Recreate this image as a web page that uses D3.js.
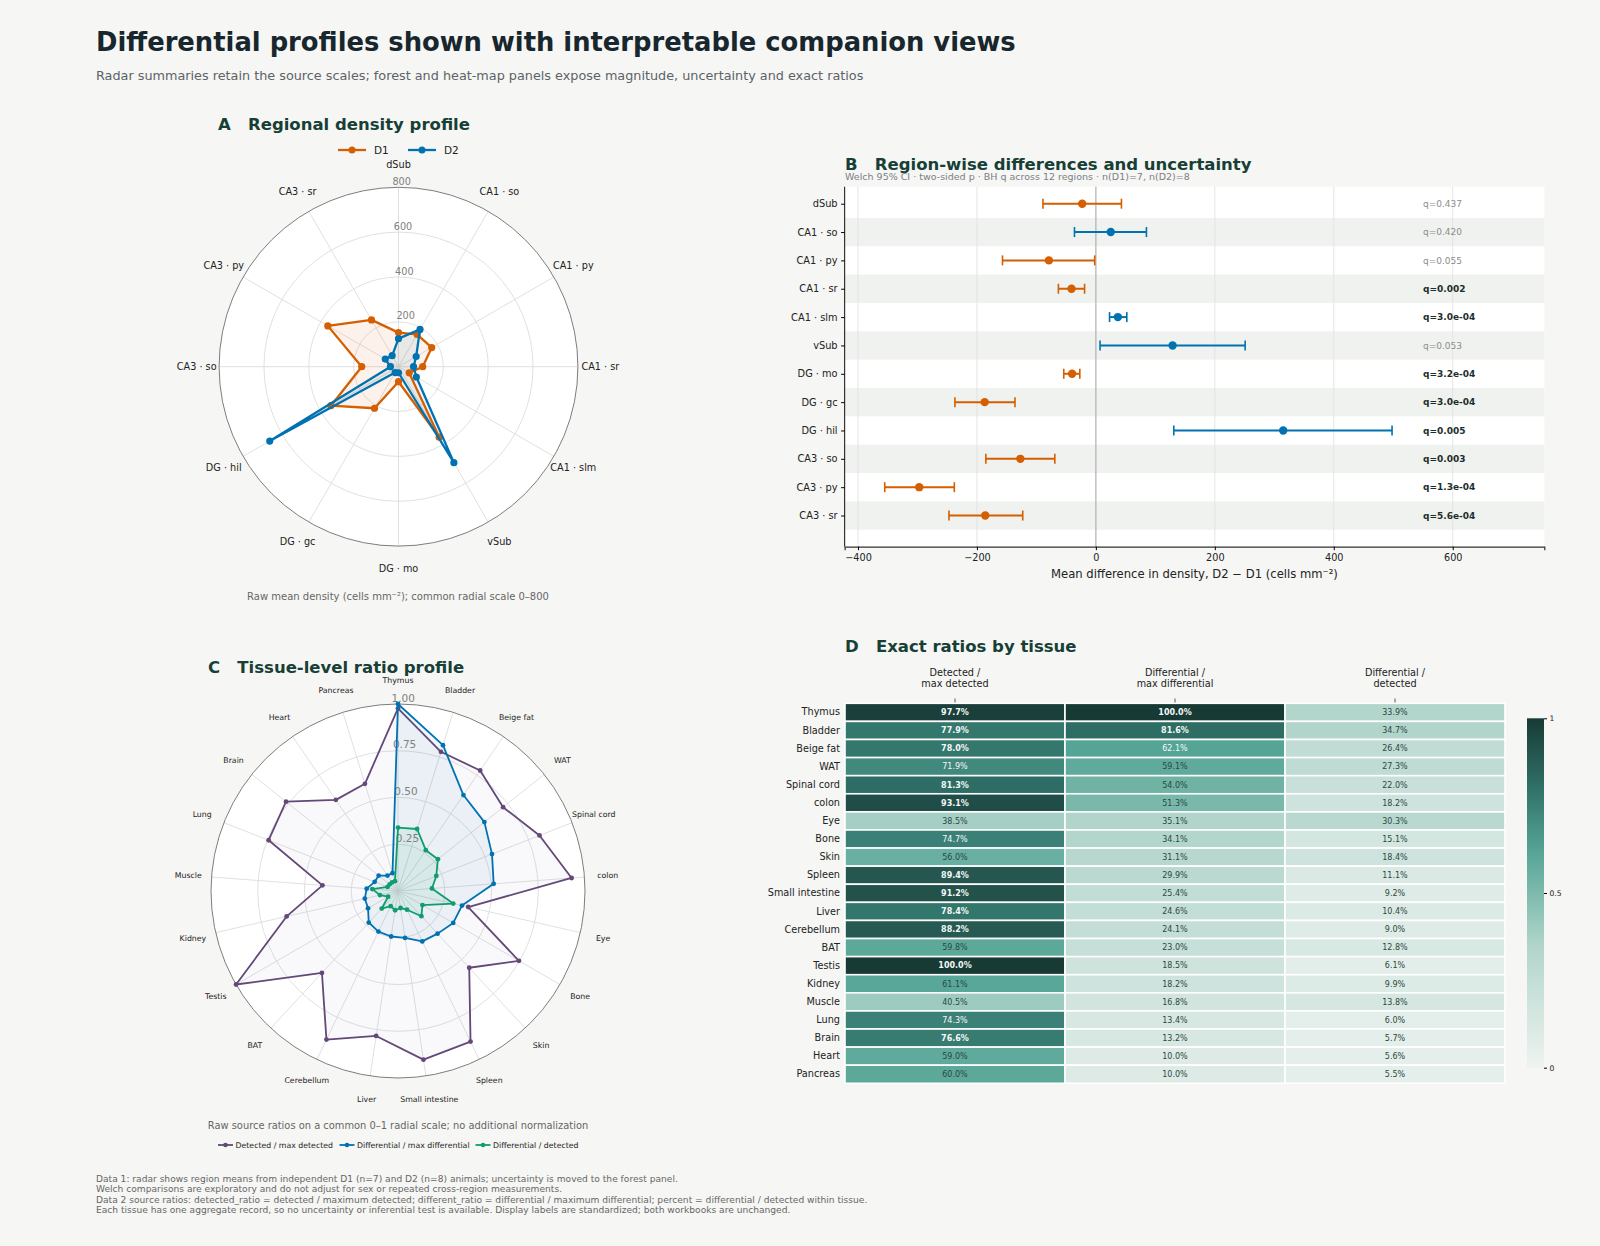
<!DOCTYPE html>
<html>
<head>
<meta charset="utf-8">
<script src="https://cdn.jsdelivr.net/npm/d3@7"></script>
<style>
  body { margin: 0; background: #f6f6f4; }
  svg { display: block; font-family: "DejaVu Sans", sans-serif; }
  .pre { white-space: pre; }
</style>
</head>
<body>
<script>
// ---- data ----
var regions = ["dSub", "CA1 · so", "CA1 · py", "CA1 · sr", "CA1 · slm", "vSub",
  "DG · mo", "DG · gc", "DG · hil", "CA3 · so", "CA3 · py", "CA3 · sr"];
var d1Density = [152, 166, 171, 108, 55, 363, 67, 214, 348, 164, 364, 241];
var d2Density = [125, 192, 91, 67, 92, 494, 27, 30, 663, 36, 68, 57];

var diffMean = [-23, 25, -79, -41, 37, 129, -40, -187, 315, -127, -297, -186];
var diffLo = [-89, -36, -157, -63, 23, 7, -54, -237, 131, -185, -355, -247];
var diffHi = [43, 85, -2, -19, 52, 251, -27, -136, 498, -69, -238, -123];
var qValues = [0.437, 0.420, 0.055, 0.002, 3.0e-4, 0.053, 3.2e-4, 3.0e-4, 0.005, 0.003, 1.3e-4, 5.6e-4];
var qLabels = ["q=0.437", "q=0.420", "q=0.055", "q=0.002", "q=3.0e-04", "q=0.053",
  "q=3.2e-04", "q=3.0e-04", "q=0.005", "q=0.003", "q=1.3e-04", "q=5.6e-04"];
var forestTicks = [-400, -200, 0, 200, 400, 600];

var tissues = ["Thymus", "Bladder", "Beige fat", "WAT", "Spinal cord", "colon", "Eye", "Bone",
  "Skin", "Spleen", "Small intestine", "Liver", "Cerebellum", "BAT", "Testis", "Kidney",
  "Muscle", "Lung", "Brain", "Heart", "Pancreas"];
var detectedRatio = [0.977, 0.779, 0.780, 0.719, 0.813, 0.931, 0.385, 0.747, 0.560, 0.894, 0.912,
  0.784, 0.882, 0.598, 1.000, 0.611, 0.405, 0.743, 0.766, 0.590, 0.600];
var differentRatio = [1.000, 0.816, 0.621, 0.591, 0.540, 0.513, 0.351, 0.341, 0.311, 0.299, 0.254,
  0.246, 0.241, 0.230, 0.185, 0.182, 0.168, 0.134, 0.132, 0.100, 0.100];
var diffPercent = [0.339, 0.347, 0.264, 0.273, 0.220, 0.182, 0.303, 0.151, 0.184, 0.111, 0.092,
  0.104, 0.090, 0.128, 0.061, 0.099, 0.138, 0.060, 0.057, 0.056, 0.055];
var heatColumns = [["Detected /", "max detected"], ["Differential /", "max differential"], ["Differential /", "detected"]];

var footer = [
  "Data 1: radar shows region means from independent D1 (n=7) and D2 (n=8) animals; uncertainty is moved to the forest panel.",
  "Welch comparisons are exploratory and do not adjust for sex or repeated cross-region measurements.",
  "Data 2 source ratios: detected_ratio = detected / maximum detected; different_ratio = differential / maximum differential; percent = differential / detected within tissue.",
  "Each tissue has one aggregate record, so no uncertainty or inferential test is available. Display labels are standardized; both workbooks are unchanged."
];

var ORANGE = "#d55e00", BLUE = "#0072b2", PURPLE = "#634878", GREEN = "#0f9d6e";
var TITLE = "#173f36";

var W = 1600, H = 1246;
var svg = d3.select("body").append("svg").attr("width", W).attr("height", H);
svg.append("rect").attr("width", W).attr("height", H).attr("fill", "#f6f6f4");

svg.append("text").attr("x", 96).attr("y", 51)
  .attr("font-size", 25.8).attr("font-weight", "bold").attr("fill", "#18262e")
  .text("Differential profiles shown with interpretable companion views");
svg.append("text").attr("x", 96).attr("y", 80)
  .attr("font-size", 12.8).attr("fill", "#5c6368")
  .text("Radar summaries retain the source scales; forest and heat-map panels expose magnitude, uncertainty and exact ratios");

function panelTitle(x, y, txt) {
  svg.append("text").attr("class", "pre").attr("x", x).attr("y", y)
    .attr("font-size", 16.5).attr("font-weight", "bold").attr("fill", TITLE).text(txt);
}

// ---- radar helper ----
function radar(o) {
  var r = d3.scaleLinear().domain([0, o.max]).range([0, o.R]);
  var ang = d3.scaleLinear().domain([0, o.cats.length]).range([0, 2 * Math.PI]);
  var g = svg.append("g").attr("transform", "translate(" + o.cx + "," + o.cy + ")");

  g.append("circle").attr("r", o.R).attr("fill", "#fff");
  g.selectAll(".ring").data(o.rings.filter(function(v) { return v < o.max; }))
    .enter().append("circle").attr("r", function(v) { return r(v); })
    .attr("fill", "none").attr("stroke", "#dcdcdc").attr("stroke-width", 0.9);
  g.selectAll(".spoke").data(o.cats).enter().append("line")
    .attr("x2", function(d, i) { return o.R * Math.sin(ang(i)); })
    .attr("y2", function(d, i) { return -o.R * Math.cos(ang(i)); })
    .attr("stroke", "#dcdcdc").attr("stroke-width", 0.9);
  g.append("circle").attr("r", o.R).attr("fill", "none").attr("stroke", "#7d7d7d").attr("stroke-width", 1);

  var line = d3.lineRadial().angle(function(d, i) { return ang(i); })
    .radius(function(d) { return r(d); }).curve(d3.curveLinearClosed);

  o.series.forEach(function(s) {
    g.append("path").attr("d", line(s.values)).attr("fill", s.color).attr("fill-opacity", s.fillOp).attr("stroke", "none");
  });

  g.selectAll(".rl").data(o.rings).enter().append("text")
    .attr("x", function(v) { return o.tickDx - 0.03 * r(v); })
    .attr("y", function(v) { return -r(v) - 2.5; })
    .attr("text-anchor", "middle").attr("font-size", o.tickSize).attr("fill", "#808080")
    .text(o.ringFmt);

  o.series.forEach(function(s) {
    g.append("path").attr("d", line(s.values)).attr("fill", "none")
      .attr("stroke", s.color).attr("stroke-width", o.lw).attr("stroke-linejoin", "round");
    g.selectAll(null).data(s.values).enter().append("circle")
      .attr("cx", function(d, i) { return r(d) * Math.sin(ang(i)); })
      .attr("cy", function(d, i) { return -r(d) * Math.cos(ang(i)); })
      .attr("r", o.mr).attr("fill", s.color);
  });

  g.selectAll(".cl").data(o.cats).enter().append("text")
    .attr("x", function(d, i) { return o.R * 1.125 * Math.sin(ang(i)); })
    .attr("y", function(d, i) { return -o.R * 1.125 * Math.cos(ang(i)); })
    .attr("dy", "0.35em").attr("text-anchor", "middle")
    .attr("font-size", o.labelSize).attr("fill", "#222").text(function(d) { return d; });
}

// ---- Panel A ----
panelTitle(218, 130, "A   Regional density profile");
var legA = [{ name: "D1", color: ORANGE, x: 338 }, { name: "D2", color: BLUE, x: 408 }];
legA.forEach(function(l) {
  svg.append("line").attr("x1", l.x).attr("x2", l.x + 28).attr("y1", 150).attr("y2", 150)
    .attr("stroke", l.color).attr("stroke-width", 2.3);
  svg.append("circle").attr("cx", l.x + 14).attr("cy", 150).attr("r", 3.5).attr("fill", l.color);
  svg.append("text").attr("x", l.x + 36).attr("y", 150).attr("dy", "0.35em")
    .attr("font-size", 10.5).attr("fill", "#222").text(l.name);
});
radar({
  cx: 398.5, cy: 366.7, R: 179.4, max: 800, rings: [200, 400, 600, 800],
  ringFmt: function(v) { return v; }, tickDx: 8.5, tickSize: 9.7,
  cats: regions, labelSize: 9.7, lw: 2.3, mr: 3.6,
  series: [
    { values: d1Density, color: ORANGE, fillOp: 0.08 },
    { values: d2Density, color: BLUE, fillOp: 0.08 }
  ]
});
svg.append("text").attr("x", 398).attr("y", 600).attr("text-anchor", "middle")
  .attr("font-size", 10).attr("fill", "#666").text("Raw mean density (cells mm⁻²); common radial scale 0–800");

// ---- Panel B ----
panelTitle(845, 170, "B   Region-wise differences and uncertainty");
svg.append("text").attr("x", 845).attr("y", 180).attr("font-size", 9.5).attr("fill", "#7b8084")
  .text("Welch 95% CI · two-sided p · BH q across 12 regions · n(D1)=7, n(D2)=8");

var xB = d3.scaleLinear().domain([-422.5, 754]).range([844.6, 1544.3]);
var yB = d3.scaleLinear().domain([-0.6, 12.1]).range([186.7, 546.7]);
var gB = svg.append("g");
gB.append("rect").attr("x", xB.range()[0]).attr("y", yB.range()[0])
  .attr("width", xB.range()[1] - xB.range()[0]).attr("height", yB.range()[1] - yB.range()[0]).attr("fill", "#fff");
gB.selectAll(".band").data(regions).enter().filter(function(d, i) { return i % 2 === 1; })
  .append("rect").attr("x", xB.range()[0]).attr("width", xB.range()[1] - xB.range()[0])
  .attr("y", function(d) { return yB(regions.indexOf(d) - 0.5); })
  .attr("height", yB(1) - yB(0)).attr("fill", "#f0f2ef");
gB.selectAll(".grid").data(forestTicks).enter().append("line")
  .attr("x1", function(d) { return xB(d); }).attr("x2", function(d) { return xB(d); })
  .attr("y1", yB.range()[0]).attr("y2", yB.range()[1])
  .attr("stroke", function(d) { return d === 0 ? "#b0b0b0" : "#e2e2e2"; })
  .attr("stroke-width", function(d) { return d === 0 ? 1.2 : 0.9; });

var rowsB = gB.selectAll(".row").data(regions).enter().append("g")
  .attr("transform", function(d, i) { return "translate(0," + yB(i) + ")"; });
function colB(i) { return diffMean[i] < 0 ? ORANGE : BLUE; }
rowsB.append("line").attr("x1", function(d, i) { return xB(diffLo[i]); }).attr("x2", function(d, i) { return xB(diffHi[i]); })
  .attr("stroke", function(d, i) { return colB(i); }).attr("stroke-width", 2);
rowsB.append("line").attr("x1", function(d, i) { return xB(diffLo[i]); }).attr("x2", function(d, i) { return xB(diffLo[i]); })
  .attr("y1", -5).attr("y2", 5).attr("stroke", function(d, i) { return colB(i); }).attr("stroke-width", 1.6);
rowsB.append("line").attr("x1", function(d, i) { return xB(diffHi[i]); }).attr("x2", function(d, i) { return xB(diffHi[i]); })
  .attr("y1", -5).attr("y2", 5).attr("stroke", function(d, i) { return colB(i); }).attr("stroke-width", 1.6);
rowsB.append("circle").attr("cx", function(d, i) { return xB(diffMean[i]); }).attr("r", 4.2)
  .attr("fill", function(d, i) { return colB(i); });
rowsB.append("text").attr("x", xB(550)).attr("dy", "0.35em").attr("font-size", 9)
  .attr("font-weight", function(d, i) { return qValues[i] < 0.05 ? "bold" : "normal"; })
  .attr("fill", function(d, i) { return qValues[i] < 0.05 ? "#1d2d2b" : "#8c8c8c"; })
  .text(function(d, i) { return qLabels[i]; });

var axXB = gB.append("g").attr("transform", "translate(0," + yB.range()[1] + ")")
  .call(d3.axisBottom(xB).tickValues(forestTicks).tickSize(3.5).tickPadding(3.5).tickFormat(d3.format("d")));
axXB.select(".domain").attr("stroke", "#333").attr("stroke-width", 1.2);
axXB.selectAll(".tick text").attr("font-size", 9.7).attr("font-family", "DejaVu Sans").attr("fill", "#222");
var axYB = gB.append("g").attr("transform", "translate(" + xB.range()[0] + ",0)")
  .call(d3.axisLeft(d3.scalePoint().domain(regions).range([yB(0), yB(11)])).tickSize(3.5).tickPadding(3.5));
axYB.select(".domain").attr("d", "M0," + yB.range()[0] + "V" + yB.range()[1]).attr("stroke", "#333").attr("stroke-width", 1.2);
axYB.selectAll(".tick text").attr("font-size", 9.8).attr("font-family", "DejaVu Sans").attr("fill", "#222");
gB.append("text").attr("x", (xB.range()[0] + xB.range()[1]) / 2).attr("y", 578)
  .attr("text-anchor", "middle").attr("font-size", 11.6).attr("fill", "#222")
  .text("Mean difference in density, D2 − D1 (cells mm⁻²)");

// ---- Panel C ----
panelTitle(208, 673, "C   Tissue-level ratio profile");
radar({
  cx: 398, cy: 891, R: 187, max: 1, rings: [0.25, 0.5, 0.75, 1],
  ringFmt: d3.format(".2f"), tickDx: 10.8, tickSize: 10.5,
  cats: tissues, labelSize: 7.8, lw: 1.8, mr: 2.4,
  series: [
    { values: detectedRatio, color: PURPLE, fillOp: 0.04 },
    { values: differentRatio, color: BLUE, fillOp: 0.06 },
    { values: diffPercent, color: GREEN, fillOp: 0.08 }
  ]
});
svg.append("text").attr("x", 398).attr("y", 1129).attr("text-anchor", "middle")
  .attr("font-size", 9.9).attr("fill", "#666")
  .text("Raw source ratios on a common 0–1 radial scale; no additional normalization");
var legC = [{ name: "Detected / max detected", color: PURPLE, x: 218 },
  { name: "Differential / max differential", color: BLUE, x: 339.5 },
  { name: "Differential / detected", color: GREEN, x: 475.5 }];
legC.forEach(function(l) {
  svg.append("line").attr("x1", l.x).attr("x2", l.x + 15).attr("y1", 1145).attr("y2", 1145)
    .attr("stroke", l.color).attr("stroke-width", 1.8);
  svg.append("circle").attr("cx", l.x + 7.5).attr("cy", 1145).attr("r", 2.3).attr("fill", l.color);
  svg.append("text").attr("x", l.x + 17.5).attr("y", 1145).attr("dy", "0.35em")
    .attr("font-size", 7.8).attr("fill", "#222").text(l.name);
});

// ---- Panel D ----
panelTitle(845, 652, "D   Exact ratios by tissue");
var heatValues = [detectedRatio, differentRatio, diffPercent];
var xD = d3.scaleBand().domain([0, 1, 2]).range([845, 1505]);
var yD = d3.scaleBand().domain(tissues).range([703.3, 1083.3]);
var cmap = d3.scaleLinear().domain([0, 0.35, 0.5, 0.62, 0.8, 1])
  .range(["#eef3f0", "#b1d5cb", "#7dbaad", "#55a596", "#307168", "#183a35"])
  .interpolate(d3.interpolateRgb).clamp(true);

var gD = svg.append("g");
heatValues.forEach(function(vals, c) {
  var cells = gD.selectAll(null).data(tissues).enter().append("g");
  cells.append("rect").attr("x", xD(c)).attr("y", function(d) { return yD(d); })
    .attr("width", xD.bandwidth()).attr("height", yD.bandwidth())
    .attr("fill", function(d, i) { return cmap(vals[i]); })
    .attr("stroke", "#fff").attr("stroke-width", 1.6);
  cells.append("text").attr("x", xD(c) + xD.bandwidth() / 2)
    .attr("y", function(d) { return yD(d) + yD.bandwidth() / 2; }).attr("dy", "0.35em")
    .attr("text-anchor", "middle").attr("font-size", 8)
    .attr("font-weight", function(d, i) { return vals[i] >= 0.75 ? "bold" : "normal"; })
    .attr("fill", function(d, i) { return vals[i] >= 0.615 ? "#f4f8f6" : "#2b4843"; })
    .text(function(d, i) { return (vals[i] * 100).toFixed(1) + "%"; });
  var hdr = gD.append("text").attr("text-anchor", "middle").attr("font-size", 9.7).attr("fill", "#222");
  heatColumns[c].forEach(function(t, k) {
    hdr.append("tspan").attr("x", xD(c) + xD.bandwidth() / 2).attr("y", 675.5 + k * 11.2).text(t);
  });
  gD.append("line").attr("x1", xD(c) + xD.bandwidth() / 2).attr("x2", xD(c) + xD.bandwidth() / 2)
    .attr("y1", 698.5).attr("y2", 702.5).attr("stroke", "#333").attr("stroke-width", 0.8);
});
var axYD = gD.append("g").attr("transform", "translate(845,0)")
  .call(d3.axisLeft(yD).tickSize(0).tickPadding(5));
axYD.select(".domain").remove();
axYD.selectAll(".tick text").attr("font-size", 9.7).attr("font-family", "DejaVu Sans").attr("fill", "#222");

// colorbar
var cbX = 1527, cbW = 17, cbTop = 718.3, cbBot = 1067.7;
var grad = svg.append("defs").append("linearGradient").attr("id", "cbgrad")
  .attr("x1", 0).attr("y1", 1).attr("x2", 0).attr("y2", 0);
d3.range(0, 1.0001, 0.05).forEach(function(t) {
  grad.append("stop").attr("offset", t).attr("stop-color", cmap(t));
});
svg.append("rect").attr("x", cbX).attr("y", cbTop).attr("width", cbW).attr("height", cbBot - cbTop)
  .attr("fill", "url(#cbgrad)");
var yCb = d3.scaleLinear().domain([0, 1]).range([cbBot, cbTop]);
var axCb = svg.append("g").attr("transform", "translate(" + (cbX + cbW) + ",0)")
  .call(d3.axisRight(yCb).tickValues([0, 0.5, 1]).tickSize(3).tickPadding(2.5).tickFormat(d3.format("~g")));
axCb.select(".domain").remove();
axCb.selectAll(".tick text").attr("font-size", 7.6).attr("font-family", "DejaVu Sans").attr("fill", "#222");

// ---- footer ----
svg.append("g").selectAll("text").data(footer).enter().append("text")
  .attr("x", 96).attr("y", function(d, i) { return 1182 + i * 10.4; })
  .attr("font-size", 9.1).attr("fill", "#666").text(function(d) { return d; });
</script>
</body>
</html>
